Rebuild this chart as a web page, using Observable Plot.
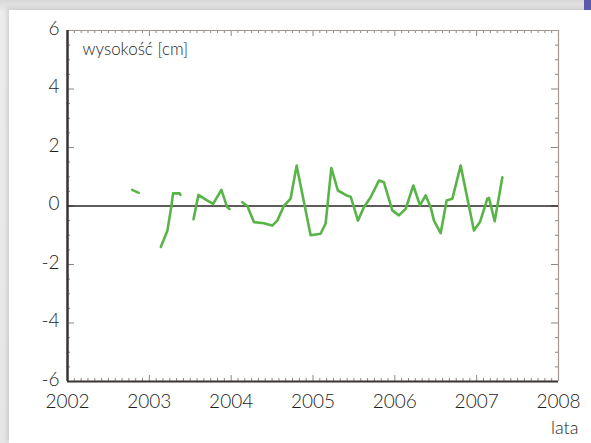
<!DOCTYPE html>
<html>
<head>
<meta charset="utf-8">
<script src="https://cdn.jsdelivr.net/npm/d3@7"></script>
<script src="https://cdn.jsdelivr.net/npm/@observablehq/plot@0.6"></script>
<style>
  html, body { margin: 0; padding: 0; }
  body { width: 591px; height: 443px; position: relative; overflow: hidden;
         background: linear-gradient(to bottom, #d8d8d8, #ececec 12px, #e6e6e6); }
  #card { position: absolute; left: 9px; top: 10px; right: 0; bottom: 0; background: #fff;
          box-shadow: -2px -2px 4px rgba(0,0,0,0.12); }
  #corner { position: absolute; right: 0; top: 0; width: 7px; height: 10px; background: #5a5aa8; }
  #chart { position: absolute; left: 0; top: 0; }
</style>
</head>
<body>
<div id="card"></div>
<div id="corner"></div>
<div id="chart"></div>
<script>
// Water height anomaly (cm) vs year; null = gap in the series
const years = [
  2002.79, 2002.87, null,
  2003.14, 2003.22, 2003.27, 2003.29, 2003.37, 2003.38, null,
  2003.54, 2003.60, 2003.70, 2003.78, 2003.88, 2003.95, 2003.98, null,
  2004.136, 2004.197, 2004.278, 2004.400, 2004.502, 2004.564, 2004.644, 2004.726, 2004.800,
  2004.971, 2005.093, 2005.154, 2005.224, 2005.304, 2005.411, 2005.460, 2005.500, 2005.549,
  2005.622, 2005.704, 2005.806, 2005.867, 2005.969, 2006.050, 2006.132, 2006.226, 2006.307,
  2006.377, 2006.438, 2006.478, 2006.560, 2006.633, 2006.703, 2006.804, 2006.967, 2007.040,
  2007.131, 2007.150, 2007.220, 2007.314
];
const heights = [
  0.55, 0.45, null,
  -1.40, -0.85, 0.00, 0.43, 0.43, 0.38, null,
  -0.45, 0.38, 0.20, 0.07, 0.55, -0.03, -0.10, null,
  0.13, 0.00, -0.55, -0.59, -0.67, -0.50, 0.00, 0.25, 1.38,
  -1.00, -0.95, -0.60, 1.30, 0.53, 0.36, 0.32, -0.04, -0.50,
  -0.04, 0.30, 0.87, 0.81, -0.15, -0.32, -0.10, 0.70, 0.02,
  0.36, -0.04, -0.50, -0.93, 0.19, 0.25, 1.38, -0.84, -0.55,
  0.25, 0.28, -0.52, 0.98
];
const yearTicks = [2002, 2003, 2004, 2005, 2006, 2007, 2008];
const heightTicks = [-6, -4, -2, 0, 2, 4, 6];
const yLabel = "wysokość [cm]";
const xLabel = "lata";

const data = years.map((t, i) => ({t, h: heights[i]}));
const monthTicks = d3.range(0, 73).map(i => 2002 + i / 12).filter(m => !yearTicks.some(y => Math.abs(y - m) < 1e-6));
const halfTicks = d3.range(-12, 13).map(i => i / 2).filter(v => !heightTicks.includes(v));

const W = 591, H = 443, mL = 67, mR = 33, mT = 30, mB = 62;
const iW = W - mL - mR, iH = H - mT - mB;
const tickColor = "#8f8580";
const frameDark = "#3b3232";

const chart = Plot.plot({
  width: W, height: H,
  marginLeft: mL, marginRight: mR, marginTop: mT, marginBottom: mB,
  style: {background: "transparent", fontFamily: "Lato, 'Open Sans', sans-serif", fontWeight: 300, color: "#1e1e1e"},
  x: {domain: [2002, 2008]},
  y: {domain: [-6, 6]},
  marks: [
    // minor & major ticks (inward)
    Plot.tickX(monthTicks, {x: d => d, insetTop: iH - 3, stroke: tickColor}),
    Plot.tickX(monthTicks, {x: d => d, insetBottom: iH - 3, stroke: tickColor}),
    Plot.tickX(yearTicks, {x: d => d, insetTop: iH - 6, stroke: tickColor}),
    Plot.tickX(yearTicks, {x: d => d, insetBottom: iH - 6, stroke: tickColor}),
    Plot.tickY(halfTicks, {y: d => d, insetRight: iW - 3, stroke: tickColor}),
    Plot.tickY(halfTicks, {y: d => d, insetLeft: iW - 3, stroke: tickColor}),
    Plot.tickY(heightTicks, {y: d => d, insetRight: iW - 7, stroke: tickColor}),
    Plot.tickY(heightTicks, {y: d => d, insetLeft: iW - 7, stroke: tickColor}),
    // frame
    Plot.ruleY([6], {stroke: "#a29894", strokeWidth: 1.2}),
    Plot.ruleX([2008], {stroke: "#a29894", strokeWidth: 1.2}),
    Plot.ruleY([-6], {stroke: frameDark, strokeWidth: 2}),
    Plot.ruleX([2002], {stroke: frameDark, strokeWidth: 2.5}),
    // zero line
    Plot.ruleY([0], {stroke: "#2a2424", strokeWidth: 1.3}),
    // series
    Plot.line(data, {x: "t", y: "h", stroke: "#58b447", strokeWidth: 2.6, strokeLinejoin: "round", strokeLinecap: "round"}),
    // axes labels
    Plot.axisX({ticks: yearTicks, tickFormat: d => String(d), tickSize: 0, tickPadding: 13, fontSize: 19, label: null}),
    Plot.axisY({ticks: heightTicks, tickFormat: d => d < 0 ? "-" + Math.abs(d) : String(d), tickSize: 0, tickPadding: 8, fontSize: 19, dy: -2, label: null}),
    Plot.text([yLabel], {frameAnchor: "top-left", dx: 15, dy: 12, textAnchor: "start", lineAnchor: "top", fontSize: 17, fill: "#1e1e1e"}),
    Plot.text([xLabel], {frameAnchor: "bottom-right", dx: 20, dy: 52, textAnchor: "end", lineAnchor: "bottom", fontSize: 18, fill: "#1e1e1e"})
  ]
});
document.getElementById("chart").appendChild(chart);
</script>
</body>
</html>
